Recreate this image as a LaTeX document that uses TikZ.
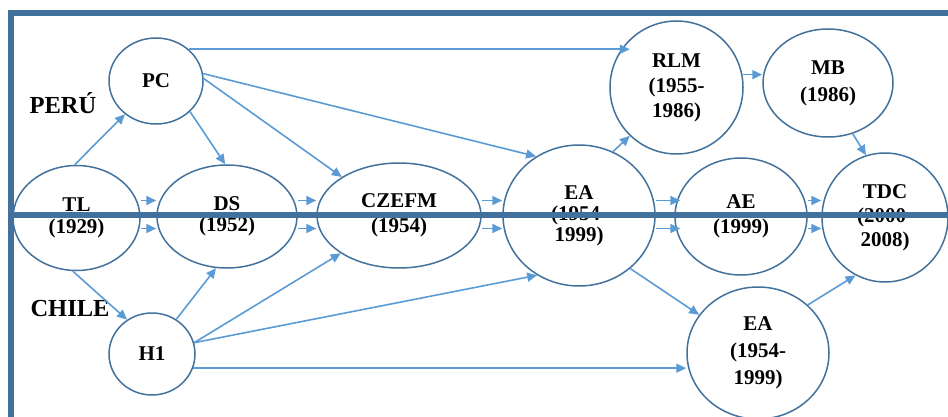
\documentclass[tikz,border=0pt]{standalone}
\usepackage{fontspec}
\setmainfont{Liberation Serif}
\usetikzlibrary{shapes.geometric,arrows.meta}
\definecolor{rimblue}{HTML}{41719C}
\definecolor{linkblue}{HTML}{5B9BD5}
\begin{document}
\begin{tikzpicture}[x=1pt,y=-1pt,
  stage/.style={ellipse, draw=rimblue, line width=1.5pt, inner sep=0pt, align=center},
  size/.style 2 args={minimum width=#1pt, minimum height=#2pt},
  lead/.style={font=\bfseries\fontsize{21}{#1}\selectfont},
  lead/.default=23,
  link/.style={draw=linkblue, line width=1.6pt, -{Triangle[length=10pt,width=9pt]}},
  bar/.style={draw=rimblue, line width=6pt},
  country/.style={font=\bfseries\fontsize{24.5}{26}\selectfont}]
\useasboundingbox (0,0) rectangle (948,417);

% stages of the two national lines
\node[stage, lead, size={94}{86}]    (pc)  at (156,81)     {PC};
\node[stage, lead=22, size={127}{105}] (tl)  at (76.5,218) {TL\\(1929)};
\node[stage, lead=21, size={140}{103}] (ds)  at (227,216.5)  {DS\\(1952)};
\node[stage, lead=25, size={164}{105}] (cz)  at (399,215.5)  {CZEFM\\(1954)};
\node[stage, lead=21, size={152}{141}] (ea)  at (579,215.5)  {EA\\(1954-\\1999)};
\node[stage, lead=25, size={133}{133}] (rlm) at (676.5,87.5) {RLM\\(1955-\\1986)};
\node[stage, lead=27, size={130}{108}] (mb)  at (828,83)     {MB\\(1986)};
\node[stage, lead=25, size={132}{117}] (ae)  at (741,216.5)  {AE\\(1999)};
\node[stage, lead=24, size={126}{129}] (tdc) at (885,217.5)  {TDC\\(2000-\\2008)};
\node[stage, lead, size={86}{82}]    (h1)  at (152,354)    {H1};
\node[stage, lead=27, size={142}{132}] (ea2) at (758,353)    {EA\\(1954-\\1999)};

% country labels
\node[country] (peru)  at (63,103)   {PERÚ};
\node[country] (chile) at (70,308.5) {CHILE};

% heights of the paired arrows along the middle row
\coordinate (hiY) at (0,200.5);
\coordinate (loY) at (0,228.5);

% links
\draw[link] (tl.92) -- (pc.-133);
\draw[link] (pc.-42) -- (ds.92);
\draw[link] (pc.44) -- (pc.44 -| rlm.134);
\draw[link] (pc.3) -- (cz.146);
\draw[link] (pc.9) -- (ea.126);

\draw[link] (tl.east |- hiY) -- (ds.west |- hiY);
\draw[link] (tl.east |- loY) -- (ds.west |- loY);
\draw[link] (ds.east |- hiY) -- (cz.west |- hiY);
\draw[link] (ds.east |- loY) -- (cz.west |- loY);
\draw[link] (cz.east |- hiY) -- (ea.west |- hiY);
\draw[link] (cz.east |- loY) -- (ea.west |- loY);
\draw[link, shorten >=-6pt] (ea.east |- hiY) -- (ae.west |- hiY);
\draw[link, shorten >=-6pt] (ea.east |- loY) -- (ae.west |- loY);
\draw[link] (ae.east |- hiY) -- (tdc.west |- hiY);
\draw[link] (ae.east |- loY) -- (tdc.west |- loY);

\draw[link] (ea.62) -- (rlm.-134);
\draw[link] (rlm.11) -- (rlm.11 -| mb.west);
\draw[link] (mb.-64) -- (tdc.107);

\draw[link] (tl.-94) -- (h1.126);
\draw[link] (h1.55) -- (ds.-102);
\draw[link] (h1.15) -- (cz.-147);
\draw[link] (h1.15) -- (ea.-125);
\draw[link] (h1.-19) -- (h1.-19 -| ea2.west);
\draw[link] (ea.-46) -- (ea2.147);
\draw[link] (ea2.44) -- (tdc.-117);

% frame and dividing rule
\draw[bar] (8,13) -- (948,13);
\draw[bar] (11,10) -- (11,417);
\draw[bar] (8,215) -- (948,215);
\end{tikzpicture}
\end{document}
